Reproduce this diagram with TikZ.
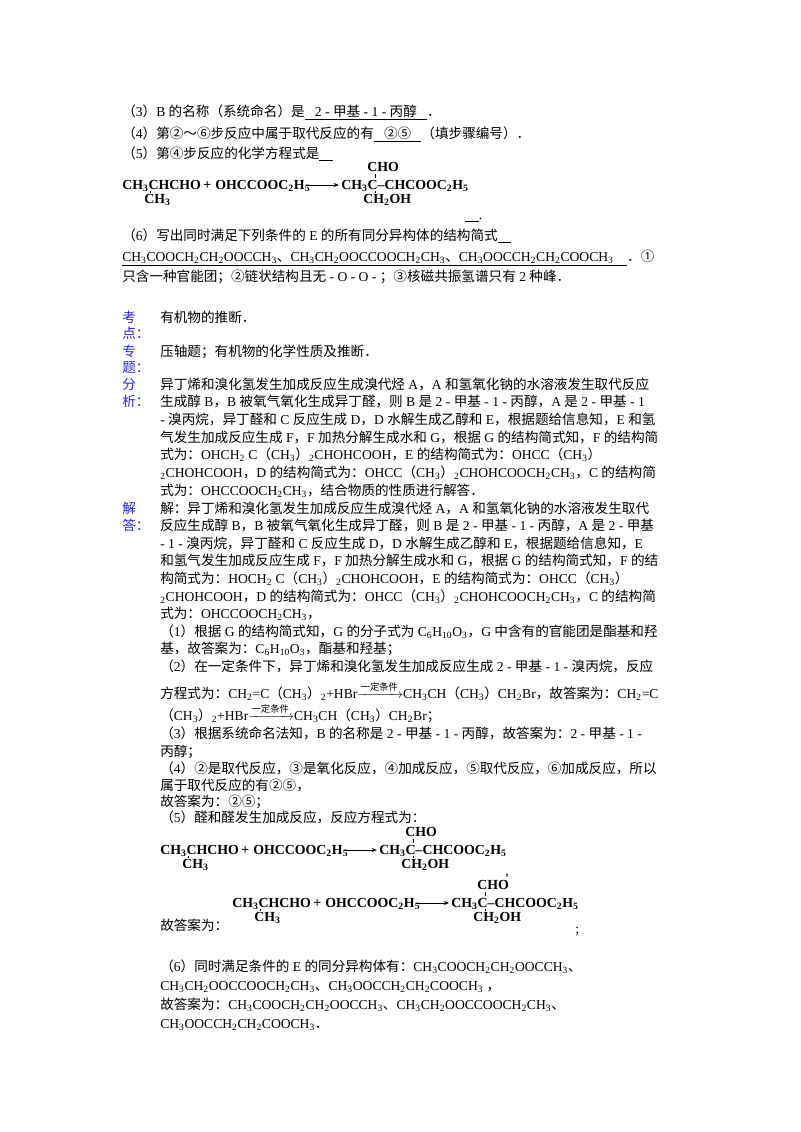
\documentclass[tikz,border=0pt]{standalone}
\usepackage{fontspec}
\usepackage{amsmath}
\usetikzlibrary{arrows.meta}
\setmainfont{Liberation Serif}
\newfontfamily\cjk{Noto Sans CJK SC}
\XeTeXinterchartokenstate=1
\newXeTeXintercharclass\cjkclass
\count255="4E00 \loop \XeTeXcharclass\count255=\cjkclass \advance\count255 by 1 \ifnum\count255<"A000 \repeat
\count255="3000 \loop \XeTeXcharclass\count255=\cjkclass \advance\count255 by 1 \ifnum\count255<"3040 \repeat
\count255="FF00 \loop \XeTeXcharclass\count255=\cjkclass \advance\count255 by 1 \ifnum\count255<"FFF0 \repeat
\count255="2460 \loop \XeTeXcharclass\count255=\cjkclass \advance\count255 by 1 \ifnum\count255<"2500 \repeat
\XeTeXinterchartoks 0 \cjkclass {\cjk}
\XeTeXinterchartoks 4095 \cjkclass {\cjk}
\XeTeXinterchartoks \cjkclass 0 {\rmfamily}
\XeTeXinterchartoks \cjkclass 4095 {\rmfamily}
\newcommand\xs[1]{\textsubscript{#1}}
\newcommand\cond{\ensuremath{\xrightarrow{\text{\scriptsize 一定条件}}}}
\definecolor{lab}{RGB}{40,40,220}
\tikzset{ln/.style={anchor=base west,inner sep=0pt,font=\fontsize{10.2pt}{12pt}\selectfont},
  lb/.style={ln,text=lab},
  fm/.style={anchor=base west,inner sep=0pt,font=\fontsize{10.4pt}{11pt}\selectfont\bfseries}}
\newcommand\rxn[2]{\begin{scope}[shift={(#1,#2)}]
 \node[fm] (ra) at (0,0) {CH\xs3CHCHO\,+};
 \node[fm] (rb) at (93,0) {OHCCOOC\xs2H\xs5};
 \draw[-{Stealth[length=4pt]},line width=0.6pt] (184,-4) -- (217,-4);
 \node[fm] (rc) at (219,0) {CH\xs3C--CHCOOC\xs2H\xs5};
 \node[fm] (rd) at (245,-18) {CHO};
 \node[fm] (re) at (241,14) {CH\xs2OH};
 \node[fm] (rf) at (22,14) {CH\xs3};
 \draw[line width=0.5pt] (28,2) -- (28,4) (253,-15) -- (253,-11) (253,2) -- (253,4);
\end{scope}}
\begin{document}
\begin{tikzpicture}[x=0.75pt,y=-0.75pt]
\useasboundingbox[fill=white] (0,0) rectangle (800,1132);
\node[ln] (q3) at (122,116) {（3）B 的名称（系统命名）是\underline{\ \ \ 2 - 甲基 - 1 - 丙醇\ \ \ }．};
\node[ln] (q4) at (122,138) {（4）第②～⑥步反应中属于取代反应的有\underline{\ \ \ ②⑤\ \ \ }（填步骤编号）．};
\node[ln] (q5) at (122,158) {（5）第④步反应的化学方程式是\underline{\ \ \ \ }};
\rxn{122}{189}
\node[ln] (q5e) at (465,219) {\underline{\ \ \ \ }.};
\node[ln] (q6) at (122,240) {（6）写出同时满足下列条件的 E 的所有同分异构体的结构简式\underline{\ \ \ \ }};
\node[ln] (q6a) at (122,261) {\underline{CH\xs3COOCH\xs2CH\xs2OOCCH\xs3、CH\xs3CH\xs2OOCCOOCH\xs2CH\xs3、CH\xs3OOCCH\xs2CH\xs2COOCH\xs3\ \ \ \ }．①};
\node[ln] (q6b) at (122,281) {只含一种官能团；②链状结构且无 - O - O - ；③核磁共振氢谱只有 2 种峰．};
\node[lb] (k1) at (122,322) {考}; \node[lb] (k2) at (122,338) {点：};
\node[ln] (kt) at (160,322) {有机物的推断．};
\node[lb] (z1) at (122,356) {专}; \node[lb] (z2) at (122,372) {题：};
\node[ln] (zt) at (160,356) {压轴题；有机物的化学性质及推断．};
\node[lb] (f1) at (122,389) {分}; \node[lb] (f2) at (122,406) {析：};
\node[ln] (fa) at (160,389) {异丁烯和溴化氢发生加成反应生成溴代烃 A，A 和氢氧化钠的水溶液发生取代反应};
\node[ln] (fb) at (160,406.7) {生成醇 B，B 被氧气氧化生成异丁醛，则 B 是 2 - 甲基 - 1 - 丙醇，A 是 2 - 甲基 - 1};
\node[ln] (fc) at (160,424.4) { - 溴丙烷，异丁醛和 C 反应生成 D，D 水解生成乙醇和 E，根据题给信息知，E 和氢};
\node[ln] (fd) at (160,442) {气发生加成反应生成 F，F 加热分解生成水和 G，根据 G 的结构简式知，F 的结构简};
\node[ln] (fe) at (160,459.8) {式为：OHCH\xs2 C（CH\xs3）\xs2CHOHCOOH，E 的结构简式为：OHCC（CH\xs3）};
\node[ln] (ff) at (160,477.5) {\xs2CHOHCOOH，D 的结构简式为：OHCC（CH\xs3）\xs2CHOHCOOCH\xs2CH\xs3，C 的结构简};
\node[ln] (fg) at (160,495) {式为：OHCCOOCH\xs2CH\xs3，结合物质的性质进行解答．};
\node[lb] (j1) at (122,513) {解}; \node[lb] (j2) at (122,530) {答：};
\node[ln] (ja) at (160,513) {解：异丁烯和溴化氢发生加成反应生成溴代烃 A，A 和氢氧化钠的水溶液发生取代};
\node[ln] (jb) at (160,530.6) {反应生成醇 B，B 被氧气氧化生成异丁醛，则 B 是 2 - 甲基 - 1 - 丙醇，A 是 2 - 甲基};
\node[ln] (jc) at (160,548.2) { - 1 - 溴丙烷，异丁醛和 C 反应生成 D，D 水解生成乙醇和 E，根据题给信息知，E};
\node[ln] (jd) at (160,565.8) {和氢气发生加成反应生成 F，F 加热分解生成水和 G，根据 G 的结构简式知，F 的结};
\node[ln] (je) at (160,583.4) {构简式为：HOCH\xs2 C（CH\xs3）\xs2CHOHCOOH，E 的结构简式为：OHCC（CH\xs3）};
\node[ln] (jf) at (160,601) {\xs2CHOHCOOH，D 的结构简式为：OHCC（CH\xs3）\xs2CHOHCOOCH\xs2CH\xs3，C 的结构简};
\node[ln] (jg) at (160,618.6) {式为：OHCCOOCH\xs2CH\xs3，};
\node[ln] (jh) at (160,636.2) {（1）根据 G 的结构简式知，G 的分子式为 C\xs6H\xs{10}O\xs3，G 中含有的官能团是酯基和羟};
\node[ln] (ji) at (160,653.8) {基，故答案为：C\xs6H\xs{10}O\xs3，酯基和羟基；};
\node[ln] (jj) at (160,671.4) {（2）在一定条件下，异丁烯和溴化氢发生加成反应生成 2 - 甲基 - 1 - 溴丙烷，反应};
\node[ln] (jk) at (160,698) {方程式为：CH\xs2=C（CH\xs3）\xs2+HBr\cond CH\xs3CH（CH\xs3）CH\xs2Br，故答案为：CH\xs2=C};
\node[ln] (jl) at (160,720) {（CH\xs3）\xs2+HBr\cond CH\xs3CH（CH\xs3）CH\xs2Br；};
\node[ln] (jm) at (160,738) {（3）根据系统命名法知，B 的名称是 2 - 甲基 - 1 - 丙醇，故答案为：2 - 甲基 - 1 -};
\node[ln] (jn) at (160,756) {丙醇；};
\node[ln] (jo) at (160,773) {（4）②是取代反应，③是氧化反应，④加成反应，⑤取代反应，⑥加成反应，所以};
\node[ln] (jp) at (160,790) {属于取代反应的有②⑤，};
\node[ln] (jq) at (160,806) {故答案为：②⑤；};
\node[ln] (jr) at (160,822) {（5）醛和醛发生加成反应，反应方程式为：};
\rxn{160}{854}
\node[ln] (jc1) at (505,875) {,};
\rxn{232}{907}
\node[ln] (js) at (160,930) {故答案为：};
\node[ln] (jt) at (575,933) {;};
\node[ln] (ka) at (160,971) {（6）同时满足条件的 E 的同分异构体有：CH\xs3COOCH\xs2CH\xs2OOCCH\xs3、};
\node[ln] (kb) at (160,990) {CH\xs3CH\xs2OOCCOOCH\xs2CH\xs3、CH\xs3OOCCH\xs2CH\xs2COOCH\xs3 ，};
\node[ln] (kc) at (160,1009) {故答案为：CH\xs3COOCH\xs2CH\xs2OOCCH\xs3、CH\xs3CH\xs2OOCCOOCH\xs2CH\xs3、};
\node[ln] (kd) at (160,1028) {CH\xs3OOCCH\xs2CH\xs2COOCH\xs3．};
\end{tikzpicture}
\end{document}
